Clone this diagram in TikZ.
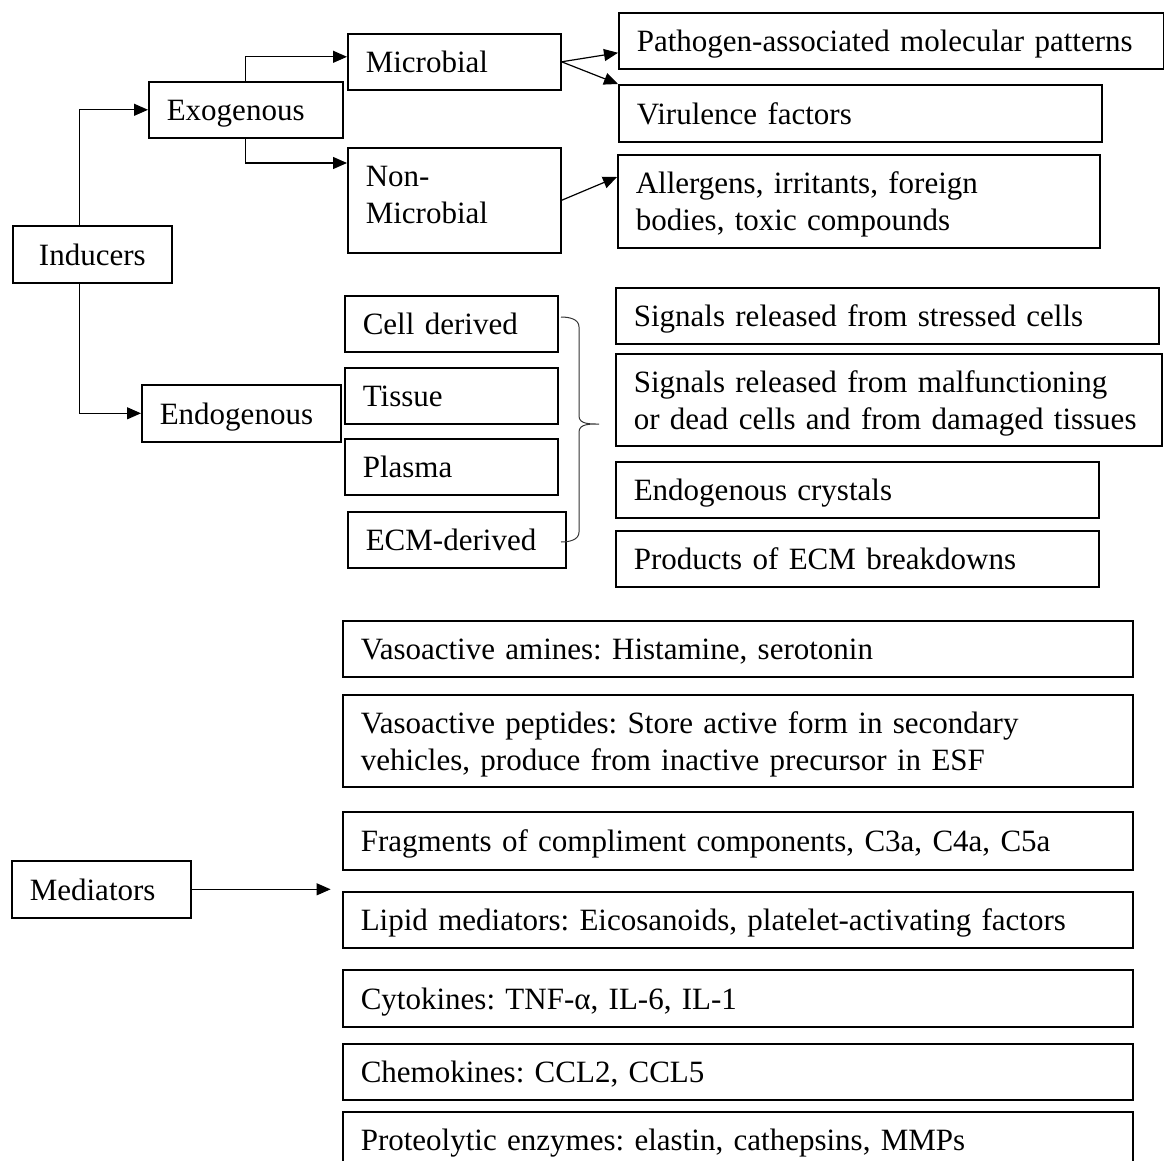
\documentclass[tikz,border=0pt]{standalone}
\usepackage{fontspec}
\setmainfont{Liberation Serif}
\usetikzlibrary{arrows.meta}
\frenchspacing
\hyphenpenalty=10000
\exhyphenpenalty=10000

\tikzset{
  box/.style={draw, line width=1.6pt, anchor=north west, inner xsep=18pt, inner ysep=0pt,
    align=left, text height=22pt, text depth=0pt, font=\fontsize{31}{37}\selectfont},
  boxw/.style={text width={#1-36}},
  boxh/.style={minimum height=#1},
  twoline/.style={text depth=37pt},
  arr/.style={-{Triangle[length=14pt,width=12pt]}, line width=1.2pt},
}

\begin{document}
\begin{tikzpicture}[x=1pt, y=-1pt]
    % page frame
    \clip (0,0) rectangle (1164,1161);

    % Inducers and their two branches
    \node[box, boxw=159, boxh=57, align=center] (inducers) at (12,225) {Inducers};
    \node[box, boxw=194, boxh=56] (exo) at (148,81) {Exogenous};
    \node[box, boxw=199, boxh=57] (endo) at (141,384) {Endogenous};

    % Exogenous side
    \node[box, boxw=213, boxh=56] (micro) at (347,33) {Microbial};
    \node[box, twoline, text depth=50pt, boxw=213, boxh=105] (nonmicro) at (347,147) {Non-\\Microbial};
    \node[box, boxw=545, boxh=56] (pamp) at (618,12) {\mbox{Pathogen-associated molecular patterns}};
    \node[box, boxw=483, boxh=57] (virul) at (618,84) {Virulence factors};
    \node[box, twoline, boxw=482, boxh=93] (allerg) at (617,154) {Allergens, irritants, foreign\\bodies, toxic compounds};

    % Endogenous side
    \node[box, boxw=213, boxh=56] (cell) at (344,295) {Cell derived};
    \node[box, boxw=213, boxh=56] (tissue) at (344,367) {Tissue};
    \node[box, boxw=213, boxh=56] (plasma) at (344,438) {Plasma};
    \node[box, boxw=218, boxh=56] (ecm) at (347,511) {ECM-derived};

    \node[box, boxw=543, boxh=56] (stress) at (615,287) {Signals released from stressed cells};
    \node[box, twoline, boxw=546, boxh=92] (damage) at (615,353) {\mbox{Signals released from malfunctioning}\\\mbox{or dead cells and from damaged tissues}};
    \node[box, boxw=483, boxh=56] (crystal) at (615,461) {Endogenous crystals};
    \node[box, boxw=483, boxh=56] (breakdown) at (615,530) {Products of ECM breakdowns};

    % Mediators
    \node[box, boxw=179, boxh=57] (mediators) at (11,860) {Mediators};
    \node[box, boxw=790, boxh=56] (amines) at (342,620) {Vasoactive amines: Histamine, serotonin};
    \node[box, twoline, boxw=790, boxh=92] (peptides) at (342,694) {Vasoactive peptides: Store active form in secondary\\vehicles, produce from inactive precursor in ESF};
    \node[box, boxw=790, boxh=58] (complement) at (342,811) {Fragments of compliment components, C3a, C4a, C5a};
    \node[box, boxw=790, boxh=56] (lipid) at (342,891) {Lipid mediators: Eicosanoids, platelet-activating factors};
    \node[box, boxw=790, boxh=57] (cytokines) at (342,969) {Cytokines: TNF-α, IL-6, IL-1};
    \node[box, boxw=790, boxh=56] (chemokines) at (342,1043) {Chemokines: CCL2, CCL5};
    \node[box, boxw=790, boxh=56] (enzymes) at (342,1111) {Proteolytic enzymes: elastin, cathepsins, MMPs};

    % Connectors
    \draw[arr] ([xshift=-13pt]inducers.north) |- (exo.west);
    \draw[arr] ([xshift=-13pt]inducers.south) |- (endo.west);
    \draw[arr] (exo.north) |- ([yshift=5pt]micro.west);
    \draw[arr] (exo.south) |- ([yshift=-16pt]nonmicro.north west);
    \draw[arr] (micro.east) -- ([yshift=-12pt]pamp.west);
    \draw[arr] (micro.east) -- (virul.north west);
    \draw[arr] (nonmicro.east) -- ([yshift=-23pt]allerg.north west);

    % brace grouping the endogenous sources
    \draw[line width=1pt, black!80] (561,317) to[out=0,in=90] (579,327) -- (579,416)
        to[out=-90,in=180] (599,424) to[out=180,in=90] (579,432) -- (579,532)
        to[out=-90,in=0] (561,542);

    % Mediators arrow
    \coordinate (medend) at ([xshift=139pt]mediators.east);
    \draw[arr] (mediators.east) -- (medend);
\end{tikzpicture}
\end{document}
